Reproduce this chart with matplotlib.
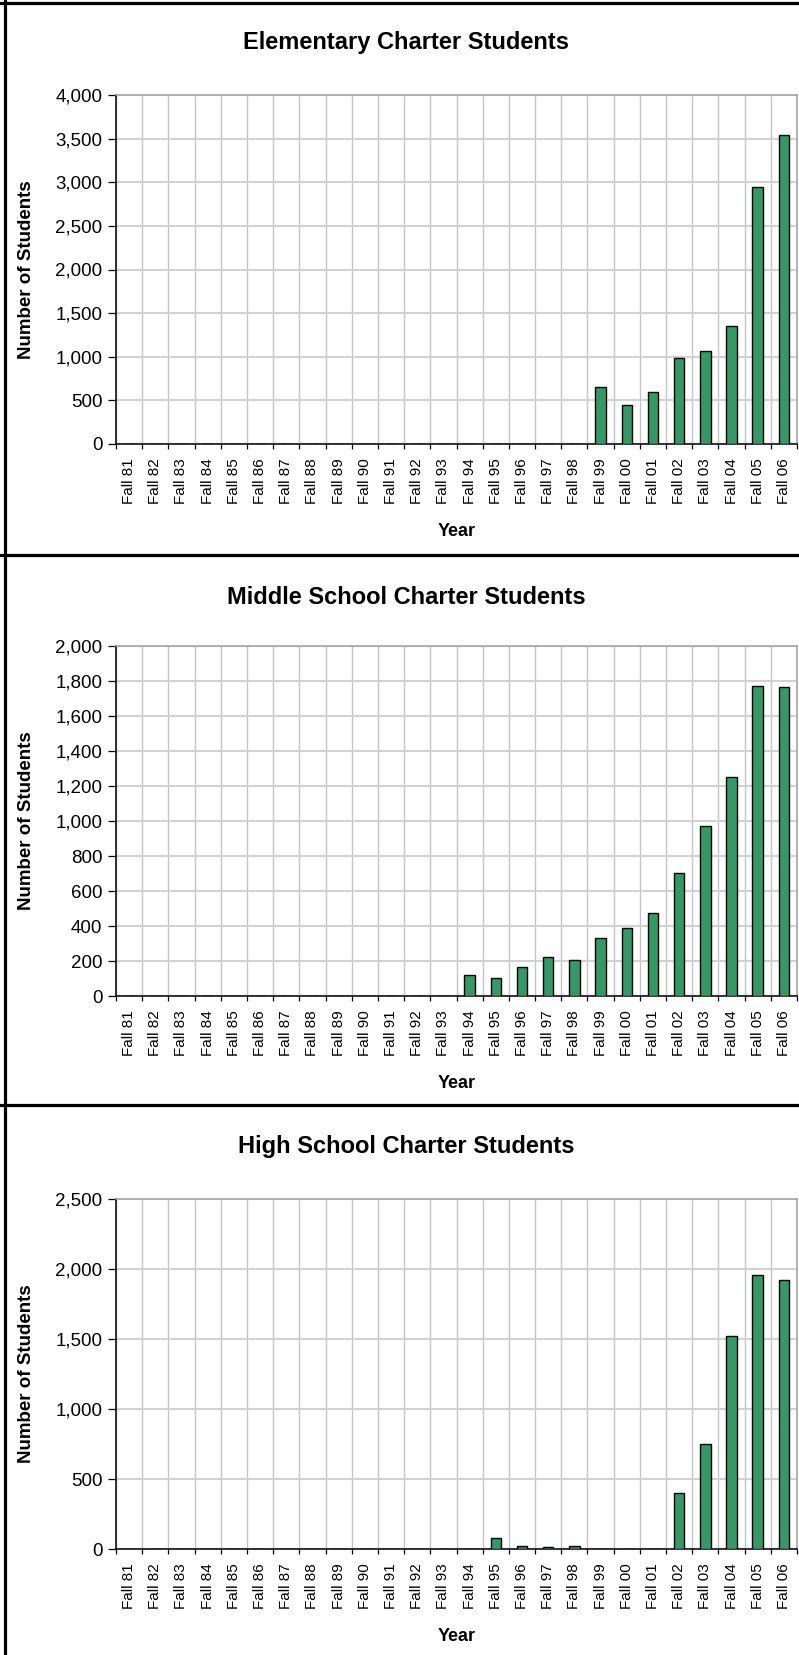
"""
Charter school enrollment by level, Fall 1981 - Fall 2006
Three stacked bar charts (elementary, middle, high school)
"""

import matplotlib

matplotlib.use("Agg")
import matplotlib.pyplot as plt
from matplotlib.lines import Line2D
from matplotlib.ticker import MultipleLocator, StrMethodFormatter

plt.rcParams["font.family"] = ["Liberation Sans", "DejaVu Sans"]

# Enrollment data
years = [
    "Fall 81", "Fall 82", "Fall 83", "Fall 84", "Fall 85", "Fall 86",
    "Fall 87", "Fall 88", "Fall 89", "Fall 90", "Fall 91", "Fall 92",
    "Fall 93", "Fall 94", "Fall 95", "Fall 96", "Fall 97", "Fall 98",
    "Fall 99", "Fall 00", "Fall 01", "Fall 02", "Fall 03", "Fall 04",
    "Fall 05", "Fall 06",
]

elementary = [
    0, 0, 0, 0, 0, 0, 0, 0, 0, 0, 0, 0, 0,
    0, 0, 0, 0, 0, 648, 450, 598, 983, 1069, 1355, 2940, 3546,
]
middle = [
    0, 0, 0, 0, 0, 0, 0, 0, 0, 0, 0, 0, 0,
    121, 102, 164, 225, 207, 333, 389, 476, 703, 971, 1254, 1771, 1765,
]
high = [
    0, 0, 0, 0, 0, 0, 0, 0, 0, 0, 0, 0, 0,
    0, 81, 24, 17, 21, 3, 0, 3, 397, 749, 1523, 1959, 1921,
]

titles = [
    "Elementary Charter Students",
    "Middle School Charter Students",
    "High School Charter Students",
]
y_max = [4000, 2000, 2500]
y_step = [500, 200, 500]

BAR_COLOR = "#339966"
W, H = 799, 1655

fig = plt.figure(figsize=(W / 100, H / 100), dpi=100)

# panel layout in pixels: (panel top, plot top, plot bottom)
panels = [(0, 95, 444), (555, 646, 996), (1105, 1199, 1549)]
plot_left, plot_right = 116, 797


def draw_panel(series, title, ymax, ystep, panel_top, top, bottom):
    ax = fig.add_axes(
        [plot_left / W, 1 - bottom / H, (plot_right - plot_left) / W, (bottom - top) / H]
    )
    x = list(range(len(years)))
    ax.bar(x, series, width=0.4, color=BAR_COLOR, edgecolor="black",
           linewidth=1.0, zorder=3)

    ax.set_xlim(-0.5, len(years) - 0.5)
    ax.set_ylim(0, ymax)

    # y axis
    ax.yaxis.set_major_locator(MultipleLocator(ystep))
    ax.yaxis.set_major_formatter(StrMethodFormatter("{x:,.0f}"))
    ax.tick_params(axis="y", length=5.8, width=0.9, pad=4, labelsize=13.5,
                   color="black")
    ax.grid(axis="y", color="#d2d2d2", linewidth=1.5, zorder=0)

    # x axis: labels at centers, ticks/grid at category boundaries
    ax.set_xticks(x)
    ax.set_xticklabels(years, rotation=90, fontsize=11)
    ax.tick_params(axis="x", which="major", length=0, pad=10)
    ax.set_xticks([i - 0.5 for i in range(len(years) + 1)], minor=True)
    ax.tick_params(axis="x", which="minor", length=3.5, width=0.9, color="black")
    ax.grid(axis="x", which="minor", color="#c4c4c4", linewidth=1.0, zorder=0)

    for side in ("left", "bottom"):
        ax.spines[side].set_color("black")
        ax.spines[side].set_linewidth(1.1)
    for side in ("top", "right"):
        ax.spines[side].set_color("#a0a0a0")
        ax.spines[side].set_linewidth(1.1)

    ax.set_ylabel("Number of Students", fontsize=13.5, fontweight="bold")
    ax.yaxis.set_label_coords((35 - plot_left) / (plot_right - plot_left), 0.5)
    ax.set_xlabel("Year", fontsize=13, fontweight="bold")
    ax.xaxis.set_label_coords(0.5, -0.225)

    fig.text(406 / W, 1 - (panel_top + 42) / H, title, ha="center", va="center",
             fontsize=17, fontweight="bold")
    return ax


for series, title, ymax, ystep, (ptop, top, bottom) in zip(
    [elementary, middle, high], titles, y_max, y_step, panels
):
    draw_panel(series, title, ymax, ystep, ptop, top, bottom)

# black frame lines around the panels
border_lw = 2.3
fig.add_artist(Line2D([4.5 / W, 4.5 / W], [0, 1], color="black", linewidth=border_lw))
for yp in (3, 555, 1105):
    fig.add_artist(Line2D([0, 1], [1 - yp / H, 1 - yp / H], color="black",
                          linewidth=border_lw))

fig.savefig("out.png", dpi=100)
